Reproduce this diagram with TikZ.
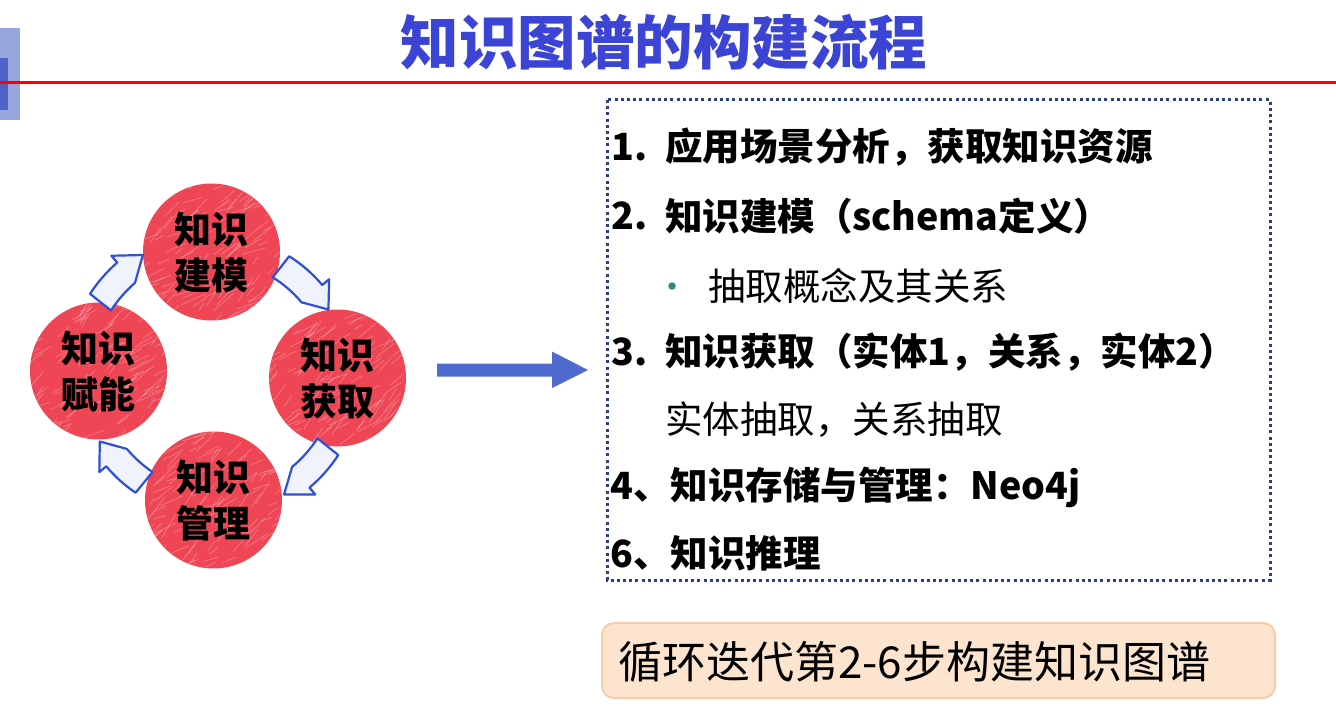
\documentclass[tikz,border=0pt]{standalone}
\usepackage{fontspec}
\newfontfamily\cjk{Noto Sans CJK SC}
\usetikzlibrary{calc}
\definecolor{titleblue}{HTML}{3B44D4}
\definecolor{barlight}{HTML}{98A6DE}
\definecolor{bardark}{HTML}{4D63C6}
\definecolor{ballred}{HTML}{EF4656}
\definecolor{arrowblue}{HTML}{2F4FD6}
\definecolor{bigarrow}{HTML}{4F6BCF}
\definecolor{boxnavy}{HTML}{2E3F80}
\definecolor{bullet}{HTML}{2B8C7E}
\definecolor{notefill}{HTML}{FCE4CE}
\definecolor{noteedge}{HTML}{F9CBA8}

\tikzset{
  ball/.style={circle, fill=ballred, minimum size=137pt, inner sep=0pt},
  balltext/.style={font=\cjk\bfseries\fontsize{37}{46}\selectfont, align=center, text=black},
  scribble/.style={draw=white, opacity=.28, line width=.7pt, line cap=round},
  cycarrow/.style={draw=arrowblue, fill=arrowblue!7, line width=2.2pt, line join=round},
  steptext/.style={font=\cjk\bfseries\fontsize{37.5}{44}\selectfont, anchor=west, inner sep=0pt},
  plaintext/.style={font=\cjk\fontsize{37.5}{44}\selectfont, anchor=west, inner sep=0pt},
}

% curved block arrow around the cycle centre: radius, start angle, end angle
\newcommand\cyclearrow[3]{%
  \pgfmathsetmacro\ro{#1+9}\pgfmathsetmacro\ri{#1-9}%
  \pgfmathsetmacro\ho{#1+18}\pgfmathsetmacro\hi{#1-18}%
  \pgfmathsetmacro\hb{#3+10}%
  \draw[cycarrow] (#2:\ro pt) arc[start angle=#2, end angle=\hb, radius=\ro pt]
    -- (\hb:\ho pt) -- (#3:#1 pt) -- (\hb:\hi pt)
    arc[start angle=\hb, end angle=#2, radius=\ri pt] -- cycle;
}

% hand-drawn texture inside a ball
\newcommand\scribbleball[1]{%
  \begin{scope}
    \clip (#1) circle (68pt);
    \foreach \k in {1,...,150}{
      \pgfmathsetmacro\sx{rnd*150-75}
      \pgfmathsetmacro\sy{rnd*150-75}
      \pgfmathsetmacro\sa{15+rnd*45}
      \pgfmathsetmacro\sl{8+rnd*20}
      \draw[scribble] ($(#1)+(\sx,\sy)$) -- ++(\sa:\sl);
    }
  \end{scope}
}

\begin{document}
\begin{tikzpicture}[x=1pt, y=1pt]
\useasboundingbox (0,0) rectangle (1336,-722);
\pgfmathsetseed{11}

% header
\fill[barlight] (0,-28) rectangle (20,-120);
\fill[bardark] (0,-58) rectangle (8,-110);
\coordinate (ruleL) at (0,-83);
\coordinate (ruleR) at (1336,-83);
\draw[red, line width=3pt] (ruleL) -- (ruleR);
\node[font=\cjk\bfseries\fontsize{58.5}{60}\selectfont, text=titleblue, inner sep=0pt] (title) at (664,-42) {知识图谱的构建流程};

% cycle of four stages
\node[ball] (ctop) at (211.5,-252) {};
\node[ball] (cright) at (337.5,-378) {};
\node[ball] (cbottom) at (213.5,-500) {};
\node[ball] (cleft) at (98.5,-371) {};
\scribbleball{ctop}
\scribbleball{cright}
\scribbleball{cbottom}
\scribbleball{cleft}
\node[balltext] (ttop) at (ctop) {知识\\建模};
\node[balltext] (tright) at (cright) {知识\\获取};
\node[balltext] (tbottom) at (cbottom) {知识\\管理};
\node[balltext] (tleft) at (cleft) {知识\\赋能};

\begin{scope}[shift={(215,-375)}]
  \cyclearrow{140}{147}{121}
  \cyclearrow{131}{58}{30}
  \cyclearrow{138}{-33}{-60}
  \cyclearrow{133}{-124}{-150}
\end{scope}

% arrow towards the step list
\coordinate (ba) at (437,-370);
\fill[bigarrow] (ba) ++(0,6.5) -- ++(115,0) -- ++(0,12) -- (588,-370)
  -- (552,-388) -- (552,-376.5) -- (437,-376.5) -- cycle;

% step list
\coordinate (boxA) at (607,-100);
\coordinate (boxB) at (1270,-580);
\draw[boxnavy, line width=3pt, dash pattern=on 3pt off 3.2pt] (boxA) rectangle (boxB);

\node[steptext] (n1) at (611,-147) {1.};
\node[steptext] (s1) at (665,-147) {应用场景分析，获取知识资源};
\node[steptext] (n2) at (611,-216) {2.};
\node[steptext] (s2) at (665,-216) {知识建模（schema定义）};
\node[circle, fill=bullet, inner sep=0pt, minimum size=7.5pt] (dot) at (672,-286) {};
\node[plaintext] (s2a) at (708,-286) {抽取概念及其关系};
\node[steptext] (n3) at (611,-352) {3.};
\node[steptext] (s3) at (665,-352) {知识获取（实体1，关系，实体2）};
\node[plaintext] (s3a) at (665,-420) {实体抽取，关系抽取};
\node[steptext] (s4) at (610,-487) {4、知识存储与管理：Neo4j};
\node[steptext] (s6) at (610,-553) {6、知识推理};

% iteration note
\node[draw=noteedge, fill=notefill, line width=2pt, rounded corners=12pt,
      minimum width=673pt, minimum height=75pt, inner sep=0pt] (note) at (938.5,-660.5) {};
\node[font=\cjk\fontsize{44}{48}\selectfont, anchor=west, inner sep=0pt] (notetext) at (618,-662) {循环迭代第2-6步构建知识图谱};
\end{tikzpicture}
\end{document}
